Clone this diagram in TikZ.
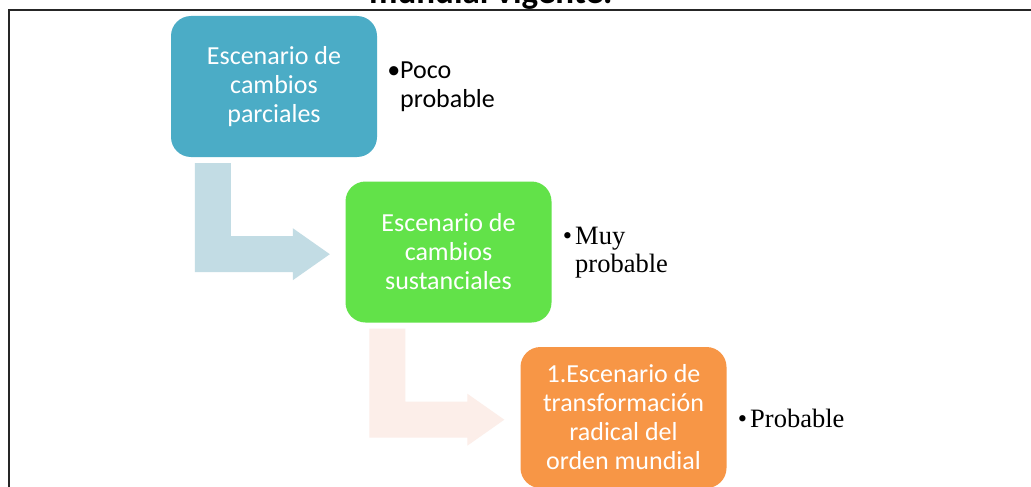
\documentclass[tikz,border=0pt]{standalone}
\usepackage{fontspec}
\setmainfont{Carlito}
\newfontfamily\serifface{Liberation Serif}
\usetikzlibrary{calc}
\definecolor{tealbox}{HTML}{4BACC6}
\definecolor{greenbox}{HTML}{62E249}
\definecolor{orangebox}{HTML}{F79646}
\definecolor{arrowblue}{HTML}{C2DCE4}
\definecolor{arrowpeach}{HTML}{FCEEE9}
\newcommand\elbowarrow[2]{%
  \fill[#2] ($(#1.south west)+(24,6)$) -- ($(#1.south west)+(60,6)$)
    -- ($(#1.south west)+(60,79)$) -- ($(#1.south west)+(122,79)$)
    -- ($(#1.south west)+(122,71)$) -- ($(#1.south west)+(159,97)$)
    -- ($(#1.south west)+(122,123)$) -- ($(#1.south west)+(122,115)$)
    -- ($(#1.south west)+(24,115)$) -- cycle;}
\begin{document}
\begin{tikzpicture}[x=1pt,y=-1pt,
  scenbox/.style={rounded corners=20pt, minimum width=206pt, minimum height=141pt,
    inner sep=0pt, align=center, text=white, font=\fontsize{26}{29}\selectfont},
  bulletsans/.style={anchor=west, align=left, inner sep=0pt, font=\fontsize{26}{29}\selectfont},
  bulletserif/.style={anchor=west, align=left, inner sep=0pt, font=\serifface\fontsize{26.5}{28}\selectfont}]
\useasboundingbox (0,0) rectangle (1031,487);
\fill[white] (0,0) rectangle (1031,487);
% title (cut off at top)
\node[anchor=base west, inner sep=0pt, font=\bfseries\fontsize{35}{40}\selectfont] (title) at (369,4) {mundial vigente.};
% frame
\draw[line width=1.6pt, black!85] (9,490) -- (9,10) -- (1035,10);
% boxes
\node[scenbox, fill=tealbox] (b1) at (274,86.5) {Escenario de\\cambios\\parciales};
\node[scenbox, fill=greenbox] (b2) at (448.5,252) {Escenario de\\cambios\\sustanciales};
\node[scenbox, fill=orangebox] (b3) at (623.5,417.5) {1.Escenario de\\transformación\\radical del\\orden mundial};
% bent arrows
\elbowarrow{b1}{arrowblue}
\elbowarrow{b2}{arrowpeach}
% labels
\node[bulletsans] (l1) at (400,87) {\llap{•}Poco\\probable};
\node[bulletserif] (l2) at (575,253) {\llap{•\hspace{3pt}}Muy\\probable};
\node[bulletserif] (l3) at (750,418) {\llap{•\hspace{3pt}}Probable};
\end{tikzpicture}
\end{document}
